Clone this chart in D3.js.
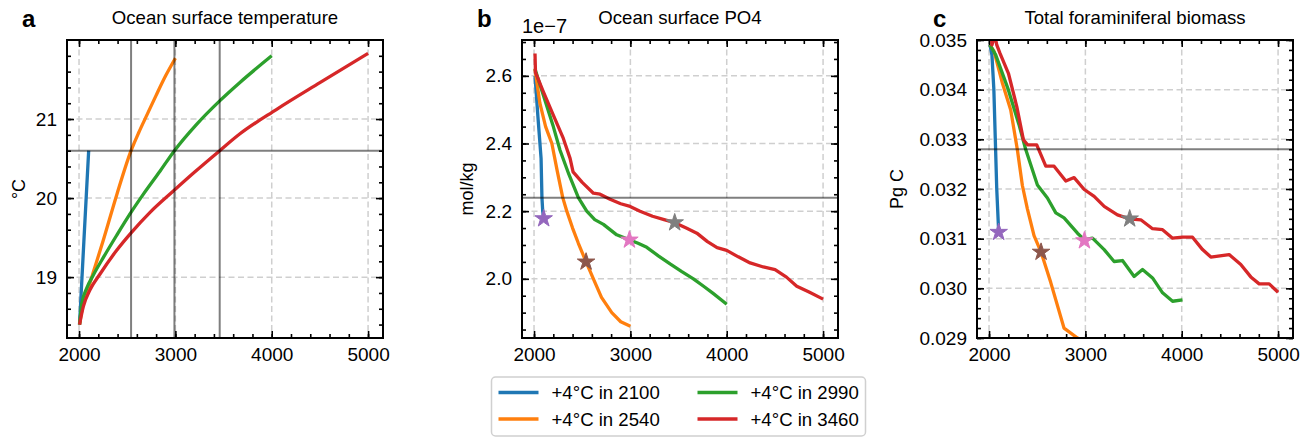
<!DOCTYPE html>
<html>
<head>
<meta charset="utf-8">
<script src="https://cdnjs.cloudflare.com/ajax/libs/d3/7.8.5/d3.min.js"></script>
<style>
body { margin: 0; background: #fff; }
text { font-family: "Liberation Sans", Arial, sans-serif; }
</style>
</head>
<body>
<div id="chart"></div>
<script>
// scenarios and colours
var scenarioNames = ["+4°C in 2100", "+4°C in 2540", "+4°C in 2990", "+4°C in 3460"];
var warmYears = [2100, 2540, 2990, 3460];
var lineColors = ["#1f77b4", "#ff7f0e", "#2ca02c", "#d62728"];
var starColors = ["#9467bd", "#8c564b", "#e377c2", "#7f7f7f"];

// shared x ticks
var xMajor = [2000, 3000, 4000, 5000];
var xMinor = d3.range(2000, 5001, 200);

// panel a: ocean surface temperature (°C), [year, value]
var temp2100 = [[2005, 18.4], [2050, 19.45], [2100, 20.6]];
var temp2540 = [[2005, 18.4], [2040, 18.65], [2080, 18.8], [2150, 19.07], [2250, 19.46], [2391, 20.04],
    [2540, 20.6], [2620, 20.83], [2700, 21.04], [2800, 21.3], [2900, 21.55], [3000, 21.77]];
var temp2990 = [[2005, 18.4], [2028, 18.66], [2080, 18.86], [2150, 19.03], [2253, 19.25], [2391, 19.53],
    [2529, 19.8], [2668, 20.05], [2840, 20.34], [2990, 20.6], [3218, 20.93], [3460, 21.23], [3667, 21.46], [4000, 21.8]];
var temp3460 = [[2005, 18.4], [2045, 18.63], [2114, 18.84], [2218, 19.04], [2391, 19.34], [2547, 19.57],
    [2737, 19.82], [2979, 20.09], [3200, 20.33], [3460, 20.6], [3667, 20.81], [4048, 21.12], [4500, 21.46], [5000, 21.83]];
var tempYTicks = [19, 20, 21];
var tempRef = 20.6;

// panel b: ocean surface PO4 (1e-7 mol/kg)
var po42100 = [[2010, 2.60], [2040, 2.48], [2073, 2.356], [2082, 2.24], [2090, 2.2], [2100, 2.178]];
var po42540 = [[2010, 2.62], [2060, 2.52], [2120, 2.45], [2185, 2.40], [2240, 2.32], [2298, 2.24], [2340, 2.2],
    [2400, 2.15], [2460, 2.105], [2540, 2.05], [2616, 2.0], [2700, 1.945], [2807, 1.9], [2900, 1.873], [3000, 1.86]];
var po42990 = [[2010, 2.62], [2100, 2.54], [2200, 2.45], [2270, 2.38], [2360, 2.31], [2460, 2.24], [2547, 2.2],
    [2630, 2.175], [2720, 2.161], [2858, 2.13], [2990, 2.115], [3080, 2.105], [3170, 2.093], [3290, 2.068],
    [3412, 2.044], [3530, 2.022], [3654, 2.0], [3760, 1.978], [3862, 1.956], [4000, 1.925]];
var po43460 = [[2010, 2.666], [2015, 2.61], [2097, 2.553], [2200, 2.484], [2304, 2.415], [2374, 2.356],
    [2405, 2.316], [2500, 2.285], [2616, 2.253], [2685, 2.25], [2789, 2.235], [2900, 2.222], [2997, 2.214],
    [3100, 2.2], [3230, 2.185], [3350, 2.175], [3460, 2.166], [3580, 2.15], [3690, 2.135], [3800, 2.11],
    [3900, 2.092], [4000, 2.084], [4120, 2.065], [4243, 2.047], [4380, 2.035], [4502, 2.027], [4620, 2.005],
    [4727, 1.978], [4860, 1.96], [5000, 1.94]];
var po4YTicks = [2.0, 2.2, 2.4, 2.6];
var po4Ref = 2.24;
var po4Stars = [2.178, 2.05, 2.115, 2.166];

// panel c: total foraminiferal biomass (Pg C)
var bio2100 = [[2010, 0.0349], [2030, 0.0347], [2050, 0.0340], [2065, 0.0330], [2080, 0.0320], [2100, 0.03113]];
var bio2540 = [[2010, 0.0349], [2052, 0.03477], [2139, 0.03413], [2225, 0.03359], [2294, 0.03279], [2346, 0.03207],
    [2398, 0.0316], [2467, 0.03106], [2540, 0.03073], [2640, 0.03012], [2778, 0.0292], [2918, 0.029], [3000, 0.0289]];
var bio2990 = [[2010, 0.0349], [2069, 0.0347], [2200, 0.0340], [2310, 0.0333], [2380, 0.0328], [2502, 0.03208],
    [2606, 0.03182], [2693, 0.03152], [2779, 0.03142], [2918, 0.03111], [2988, 0.03098], [3074, 0.03101],
    [3195, 0.03078], [3298, 0.03054], [3385, 0.03056], [3506, 0.03024], [3593, 0.03038], [3697, 0.03021],
    [3801, 0.02991], [3905, 0.02974], [4008, 0.02977]];
var bio3460 = [[2005, 0.0365], [2030, 0.0349], [2060, 0.0351], [2080, 0.0349], [2114, 0.03473], [2201, 0.03433],
    [2288, 0.03366], [2357, 0.03299], [2400, 0.03289], [2495, 0.03289], [2589, 0.03246], [2675, 0.03246],
    [2797, 0.03216], [2883, 0.03223], [2988, 0.03199], [3091, 0.03185], [3195, 0.03165], [3333, 0.03148],
    [3454, 0.0314], [3575, 0.03138], [3697, 0.0312], [3801, 0.03118], [3905, 0.03101], [4008, 0.03103],
    [4112, 0.03103], [4216, 0.03078], [4302, 0.03063], [4492, 0.03068], [4613, 0.03048], [4717, 0.03023],
    [4804, 0.03009], [4908, 0.03009], [5000, 0.02992]];
var bioYTicks = [0.029, 0.030, 0.031, 0.032, 0.033, 0.034, 0.035];
var bioRef = 0.0328;
var bioStars = [0.03113, 0.03073, 0.03096, 0.0314];

var screen = {width: 1309, height: 438};
var panelW = 316, panelH = 298, panelTop = 40;

var svg = d3.select("#chart")
    .append("svg")
    .attr("width", screen.width)
    .attr("height", screen.height);

var drawPanel = function(p)
{
    var xScale = d3.scaleLinear().domain([1875, 5155]).range([0, panelW]);
    var yScale = d3.scaleLinear().domain(p.yDomain).range([panelH, 0]);

    var g = svg.append("g")
        .attr("transform", "translate(" + p.left + "," + panelTop + ")");

    // dashed grid
    g.append("g").selectAll("line")
        .data(xMajor)
        .enter().append("line")
        .attr("x1", function(d) { return xScale(d); })
        .attr("x2", function(d) { return xScale(d); })
        .attr("y1", 0).attr("y2", panelH)
        .attr("stroke", "#cfcfcf").attr("stroke-width", 1.5).attr("stroke-dasharray", "6,3.5");
    g.append("g").selectAll("line")
        .data(p.yTicks)
        .enter().append("line")
        .attr("y1", function(d) { return yScale(d); })
        .attr("y2", function(d) { return yScale(d); })
        .attr("x1", 0).attr("x2", panelW)
        .attr("stroke", "#cfcfcf").attr("stroke-width", 1.5).attr("stroke-dasharray", "6,3.5");

    // inward ticks on all sides
    var styleAxis = function(a)
    {
        a.select(".domain").remove();
        a.selectAll("line").attr("stroke", "#000").attr("stroke-width", 1.6);
        a.selectAll("text").style("font-size", "19px").attr("fill", "#000")
            .style("font-family", "'Liberation Sans', Arial, sans-serif");
    };
    g.append("g").attr("transform", "translate(0," + panelH + ")")
        .call(d3.axisBottom(xScale).tickValues(xMinor).tickFormat("").tickSizeInner(-4).tickSizeOuter(0))
        .call(styleAxis);
    g.append("g").attr("transform", "translate(0," + panelH + ")")
        .call(d3.axisBottom(xScale).tickValues(xMajor).tickFormat(d3.format("d")).tickSizeInner(-7).tickSizeOuter(0).tickPadding(10))
        .call(styleAxis);
    g.append("g")
        .call(d3.axisTop(xScale).tickValues(xMinor).tickFormat("").tickSizeInner(-4).tickSizeOuter(0))
        .call(styleAxis);
    g.append("g")
        .call(d3.axisTop(xScale).tickValues(xMajor).tickFormat("").tickSizeInner(-7).tickSizeOuter(0))
        .call(styleAxis);
    g.append("g")
        .call(d3.axisLeft(yScale).tickValues(p.yMinor).tickFormat("").tickSizeInner(-4).tickSizeOuter(0))
        .call(styleAxis);
    g.append("g")
        .call(d3.axisLeft(yScale).tickValues(p.yTicks).tickFormat(d3.format(p.yFormat)).tickSizeInner(-7).tickSizeOuter(0).tickPadding(10))
        .call(styleAxis);
    g.append("g").attr("transform", "translate(" + panelW + ",0)")
        .call(d3.axisRight(yScale).tickValues(p.yMinor).tickFormat("").tickSizeInner(-4).tickSizeOuter(0))
        .call(styleAxis);
    g.append("g").attr("transform", "translate(" + panelW + ",0)")
        .call(d3.axisRight(yScale).tickValues(p.yTicks).tickFormat("").tickSizeInner(-7).tickSizeOuter(0))
        .call(styleAxis);

    // data lines, clipped to the box
    g.append("clipPath").attr("id", "clip" + p.letter)
        .append("rect").attr("width", panelW).attr("height", panelH);

    var line = d3.line()
        .x(function(d) { return xScale(d[0]); })
        .y(function(d) { return yScale(d[1]); })
        .curve(p.curve);

    g.append("g").attr("clip-path", "url(#clip" + p.letter + ")")
        .selectAll("path")
        .data(p.series)
        .enter().append("path")
        .attr("d", line)
        .attr("fill", "none")
        .attr("stroke", function(d, i) { return lineColors[i]; })
        .attr("stroke-width", 3.3)
        .attr("stroke-linejoin", "round")
        .attr("stroke-linecap", "butt");

    // threshold lines
    g.append("line")
        .attr("x1", 0).attr("x2", panelW)
        .attr("y1", yScale(p.refY)).attr("y2", yScale(p.refY))
        .attr("stroke", "rgba(0,0,0,0.5)").attr("stroke-width", 2);
    g.append("g").selectAll("line")
        .data(p.refX)
        .enter().append("line")
        .attr("x1", function(d) { return xScale(d); })
        .attr("x2", function(d) { return xScale(d); })
        .attr("y1", 0).attr("y2", panelH)
        .attr("stroke", "rgba(0,0,0,0.5)").attr("stroke-width", 2);

    // stars where each run reaches +4°C
    g.append("g").selectAll("path")
        .data(p.stars)
        .enter().append("path")
        .attr("d", d3.symbol(d3.symbolStar).size(95))
        .attr("transform", function(d, i) { return "translate(" + xScale(warmYears[i]) + "," + yScale(d) + ")"; })
        .attr("fill", function(d, i) { return starColors[i]; })
        .attr("stroke", function(d, i) { return starColors[i]; })
        .attr("stroke-width", 1);

    // frame
    g.append("rect")
        .attr("width", panelW).attr("height", panelH)
        .attr("fill", "none").attr("stroke", "#000").attr("stroke-width", 2);

    // title, letter, y label
    g.append("text")
        .attr("x", panelW / 2).attr("y", -16)
        .attr("text-anchor", "middle")
        .style("font-size", "18.6px")
        .text(p.title);
    svg.append("text")
        .attr("x", p.letterX).attr("y", 27)
        .style("font-size", "24px").style("font-weight", "bold")
        .text(p.letter);
    svg.append("text")
        .attr("transform", "translate(" + p.ylabelX + "," + (panelTop + panelH / 2) + ") rotate(-90)")
        .attr("text-anchor", "middle")
        .style("font-size", "18px")
        .text(p.ylabel);
    if (p.offset)
    {
        g.append("text")
            .attr("x", 0).attr("y", -7)
            .style("font-size", "20px")
            .text(p.offset);
    }
};

drawPanel({
    left: 67, letter: "a", letterX: 22, ylabelX: 25,
    title: "Ocean surface temperature", ylabel: "°C",
    yDomain: [18.23, 22.0], yTicks: tempYTicks, yMinor: d3.range(18.4, 21.85, 0.2), yFormat: "d",
    series: [temp2100, temp2540, temp2990, temp3460], curve: d3.curveMonotoneX,
    refY: tempRef, refX: warmYears.slice(1), stars: []
});

drawPanel({
    left: 522, letter: "b", letterX: 477, ylabelX: 473,
    title: "Ocean surface PO4", ylabel: "mol/kg", offset: "1e\u22127",
    yDomain: [1.825, 2.706], yTicks: po4YTicks, yMinor: d3.range(1.85, 2.705, 0.05), yFormat: ".1f",
    series: [po42100, po42540, po42990, po43460], curve: d3.curveLinear,
    refY: po4Ref, refX: [], stars: po4Stars
});

drawPanel({
    left: 977, letter: "c", letterX: 933, ylabelX: 903,
    title: "Total foraminiferal biomass", ylabel: "Pg C",
    yDomain: [0.029, 0.035], yTicks: bioYTicks, yMinor: d3.range(0.029, 0.03501, 0.0002), yFormat: ".3f",
    series: [bio2100, bio2540, bio2990, bio3460], curve: d3.curveLinear,
    refY: bioRef, refX: [], stars: bioStars
});

// legend under panel b
var legend = svg.append("g").attr("transform", "translate(491.5,377)");
legend.append("rect")
    .attr("width", 374).attr("height", 59).attr("rx", 4)
    .attr("fill", "#fff").attr("stroke", "#d0d0d0").attr("stroke-width", 1.5);
var items = legend.selectAll("g.item")
    .data(scenarioNames)
    .enter().append("g")
    .attr("transform", function(d, i) { return "translate(" + (Math.floor(i / 2) * 199) + "," + (i % 2 * 26.5) + ")"; });
items.append("line")
    .attr("x1", 7).attr("x2", 47).attr("y1", 15.5).attr("y2", 15.5)
    .attr("stroke", function(d, i) { return lineColors[i]; })
    .attr("stroke-width", 3.3);
items.append("text")
    .attr("x", 60).attr("y", 22)
    .style("font-size", "18.6px")
    .text(function(d) { return d; });
</script>
</body>
</html>
